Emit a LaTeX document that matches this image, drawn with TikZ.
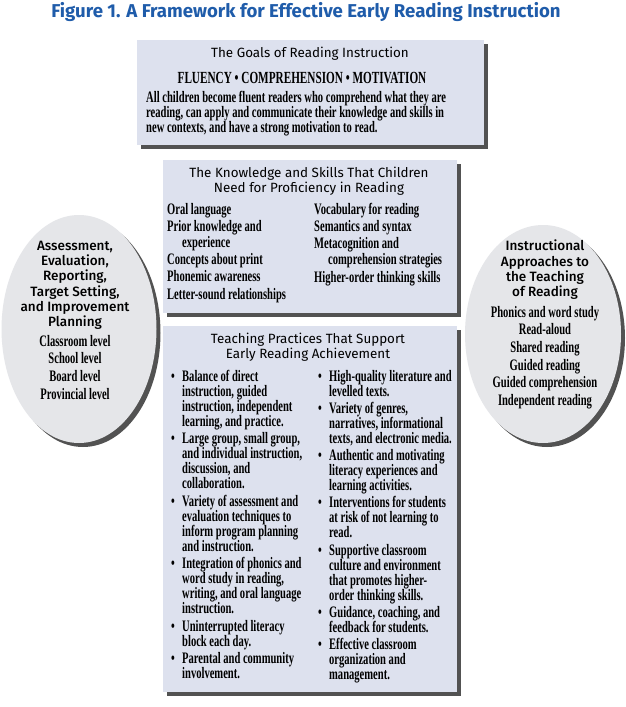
\documentclass[tikz,border=0pt]{standalone}
\usepackage{fontspec}
\usepackage{xcolor}
\usetikzlibrary{shapes.geometric,shadows}
\newfontfamily\bodyfont{Liberation Serif}[FakeStretch=0.66]
\newfontfamily\headfont{Fira Sans}
\newfontfamily\medfont{Fira Sans Medium}
\definecolor{panelfill}{RGB}{221,225,238}
\definecolor{ovalfill}{RGB}{229,230,233}
\definecolor{titleblue}{RGB}{31,92,170}
\newcommand\tpbullet{\llap{\textbullet\hspace{7.5pt}}}
\tikzset{
  panel/.style={fill=panelfill,inner sep=0pt,anchor=north west,
    drop shadow={shadow xshift=4pt,shadow yshift=-4pt,fill=black!75,opacity=0.9}},
  oval/.style={ellipse,fill=ovalfill,inner sep=0pt,
    drop shadow={shadow xshift=4pt,shadow yshift=-4pt,fill=black!75,opacity=0.9}},
  boxhead/.style={font=\headfont\fontsize{13.4}{14.5}\selectfont,align=center,inner sep=0pt,anchor=north},
  ovalhead/.style={font=\medfont\fontsize{13.5}{15.2}\selectfont,align=center,inner sep=0pt,anchor=north},
  bodycol/.style={font=\bodyfont\bfseries\fontsize{16}{15}\selectfont,align=left,inner sep=0pt,anchor=north west},
  ovalitems/.style={font=\bodyfont\bfseries\fontsize{16}{17.6}\selectfont,align=center,inner sep=0pt,anchor=north}
}
\begin{document}
\begin{tikzpicture}[x=1pt,y=-1pt]
  \path[use as bounding box,fill=white] (0,0) rectangle (625,707);
  % title
  \node[font=\headfont\bfseries\fontsize{18.6}{20}\selectfont,text=titleblue,inner sep=0pt] (title) at (306,12)
    {Figure 1. A Framework for Effective Early Reading Instruction};
  % goals
  \node[panel,minimum width=347pt,minimum height=105pt] (goals) at (137,40) {};
  \node[boxhead] (goalshead) at (310,47) {The Goals of Reading Instruction};
  \node[font=\bodyfont\bfseries\fontsize{17}{18}\selectfont,inner sep=0pt] (goalsthree) at (302,78)
    {FLUENCY • COMPREHENSION • MOTIVATION};
  \node[bodycol] (goalstext) at (146,91)
    {All children become fluent readers who comprehend what they are\\
     reading, can apply and communicate their knowledge and skills in\\
     new contexts, and have a strong motivation to read.};
  % knowledge and skills
  \node[panel,minimum width=294pt,minimum height=153pt] (skills) at (163,160) {};
  \node[boxhead] (skillshead) at (309,167)
    {The Knowledge and Skills That Children\\Need for Proficiency in Reading};
  \node[bodycol,font=\bodyfont\bfseries\fontsize{16}{16}\selectfont] (skillsleft) at (167,203)
    {Oral language\\[1.2pt]
     Prior knowledge and\\
     \hspace*{15pt}experience\\[1.2pt]
     Concepts about print\\[1.2pt]
     Phonemic awareness\\[1.2pt]
     Letter-sound relationships};
  \node[bodycol,font=\bodyfont\bfseries\fontsize{16}{16}\selectfont] (skillsright) at (314,203)
    {Vocabulary for reading\\[1.2pt]
     Semantics and syntax\\[1.2pt]
     Metacognition and\\
     \hspace*{14pt}comprehension strategies\\[1.2pt]
     Higher-order thinking skills};
  % teaching practices
  \node[panel,minimum width=294pt,minimum height=366pt] (practices) at (163,326) {};
  \node[boxhead] (practiceshead) at (308,333)
    {Teaching Practices That Support\\Early Reading Achievement};
  \node[bodycol] (practicesleft) at (182,370)
    {\tpbullet Balance of direct\\
     instruction, guided\\
     instruction, independent\\
     learning, and practice.\\[2.4pt]
     \tpbullet Large group, small group,\\
     and individual instruction,\\
     discussion, and\\
     collaboration.\\[2.4pt]
     \tpbullet Variety of assessment and\\
     evaluation techniques to\\
     inform program planning\\
     and instruction.\\[2.4pt]
     \tpbullet Integration of phonics and\\
     word study in reading,\\
     writing, and oral language\\
     instruction.\\[2.4pt]
     \tpbullet Uninterrupted literacy\\
     block each day.\\[2.4pt]
     \tpbullet Parental and community\\
     involvement.};
  \node[bodycol] (practicesright) at (329,370)
    {\tpbullet High-quality literature and\\
     levelled texts.\\[2.2pt]
     \tpbullet Variety of genres,\\
     narratives, informational\\
     texts, and electronic media.\\[2.2pt]
     \tpbullet Authentic and motivating\\
     literacy experiences and\\
     learning activities.\\[2.2pt]
     \tpbullet Interventions for students\\
     at risk of not learning to\\
     read.\\[2.2pt]
     \tpbullet Supportive classroom\\
     culture and environment\\
     that promotes higher-\\
     order thinking skills.\\[2.2pt]
     \tpbullet Guidance, coaching, and\\
     feedback for students.\\[2.2pt]
     \tpbullet Effective classroom\\
     organization and\\
     management.};
  % assessment oval
  \node[oval,minimum width=155pt,minimum height=228pt] (assess) at (79,329) {};
  \node[ovalhead] (assesshead) at (75,241)
    {Assessment,\\Evaluation,\\Reporting,\\Target Setting,\\and Improvement\\Planning};
  \node[ovalitems] (assessitems) at (75,335)
    {Classroom level\\School level\\Board level\\Provincial level};
  % approaches oval
  \node[oval,minimum width=156pt,minimum height=218pt] (approach) at (543,334) {};
  \node[ovalhead] (approachhead) at (545,240)
    {Instructional\\Approaches to\\the Teaching\\of Reading};
  \node[ovalitems] (approachitems) at (545,306)
    {Phonics and word study\\Read-aloud\\Shared reading\\Guided reading\\Guided comprehension\\Independent reading};
\end{tikzpicture}
\end{document}
